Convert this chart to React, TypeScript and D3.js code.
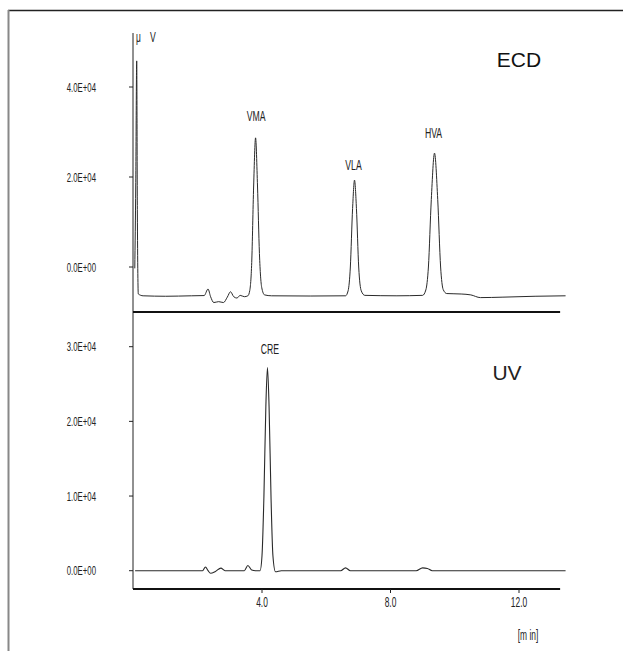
import React from "react";
import * as d3 from "d3";

// ---- data (time in min, signal in µV) ----
const ecdTrace: [number, number][] = [
  [0.04, -300], [0.07, 18000], [0.1, 45800], [0.12, 12000], [0.15, -6000], [0.3, -6400],
  [1.0, -6500], [1.8, -6400], [2.2, -6350], [2.32, -4900], [2.4, -6600], [2.5, -7900],
  [2.65, -7700], [2.8, -7900], [2.92, -6700], [3.02, -5500], [3.12, -6600], [3.22, -6900],
  [3.32, -6300], [3.45, -6600], [3.56, -6400],
  [3.62, -5200], [3.68, 1000], [3.74, 18000], [3.8, 28700], [3.86, 18000], [3.92, 3000],
  [3.99, -4500], [4.08, -6200], [4.3, -6400], [5.5, -6450], [6.6, -6400],
  [6.68, -5300], [6.75, 0], [6.82, 13000], [6.88, 19300], [6.94, 13000], [7.01, 0],
  [7.09, -5300], [7.2, -6300], [8.2, -6400], [9.0, -6300],
  [9.1, -5100], [9.18, 0], [9.27, 15000], [9.37, 25300], [9.47, 15000], [9.56, 0],
  [9.64, -5000], [9.75, -5900], [10.2, -6000], [10.5, -6200], [10.8, -6800],
  [11.5, -6700], [12.5, -6500], [13.45, -6400],
];

const uvTrace: [number, number][] = [
  [0.05, 0], [1.2, 0], [2.15, 0], [2.24, 500], [2.32, 0], [2.4, -350], [2.55, -100],
  [2.72, 350], [2.85, 0], [3.0, 0], [3.45, 0], [3.56, 700], [3.68, 100], [3.8, 0],
  [3.94, 0], [4.0, 2000], [4.06, 10000], [4.12, 22000], [4.17, 27200], [4.22, 22000],
  [4.28, 10000], [4.34, 2000], [4.42, -150], [4.6, 0], [6.45, 0], [6.6, 380], [6.75, 0],
  [8.8, 0], [9.0, 380], [9.15, 300], [9.3, 0], [13.45, 0],
];

const ecdPeaks = [
  { name: "VMA", time: 3.85, labelValue: 33500 },
  { name: "VLA", time: 6.88, labelValue: 22600 },
  { name: "HVA", time: 9.37, labelValue: 29800 },
];
const uvPeaks = [{ name: "CRE", time: 4.28, labelValue: 29700 }];

const topTicks = [0, 20000, 40000];
const topTickLabels = ["0.0E+00", "2.0E+04", "4.0E+04"];
const bottomTicks = [0, 10000, 20000, 30000];
const bottomTickLabels = ["0.0E+00", "1.0E+04", "2.0E+04", "3.0E+04"];
const xTicks = [4, 8, 12];
const xTickLabels = ["4.0", "8.0", "12.0"];

const NARROW = "'Liberation Sans', Arial, sans-serif";

function NText({ x, y, size, sx, anchor, fill = "#222", children }: any) {
  return (
    <text
      transform={`translate(${x},${y}) scale(${sx},1)`}
      textAnchor={anchor}
      fontFamily={NARROW}
      fontSize={size}
      fill={fill}
    >
      {children}
    </text>
  );
}

export default function App() {
  const W = 623, H = 651;
  const x = d3.scaleLinear().domain([0, 4]).range([133.5, 262]);
  const yTop = d3.scaleLinear().domain([0, 40000]).range([267, 87]);
  const yBot = d3.scaleLinear().domain([0, 30000]).range([570.7, 346.7]);
  const axisX = 133;
  const xEnd = x(13.28);

  const lineTop = d3.line<[number, number]>().x(d => x(d[0])).y(d => yTop(d[1])).curve(d3.curveMonotoneX);
  const lineBot = d3.line<[number, number]>().x(d => x(d[0])).y(d => yBot(d[1])).curve(d3.curveMonotoneX);

  return (
    <svg width={W} height={H} style={{ position: "absolute", left: 0, top: 0, background: "#fff" }}>
      {/* frame */}
      <line x1={8} x2={W} y1={10.5} y2={10.5} stroke="#222" strokeWidth={1.5} />
      <line x1={8.5} x2={8.5} y1={10} y2={H} stroke="#888" strokeWidth={2} />

      {/* y axis */}
      <line x1={axisX} x2={axisX} y1={33} y2={589} stroke="#222" strokeWidth={1} />
      <NText x={136} y={42} size={14} sx={0.6} anchor="start">μ</NText>
      <NText x={150} y={42} size={14} sx={0.62} anchor="start">V</NText>

      {topTicks.map((t, i) => (
        <g key={"tt" + i}>
          <line x1={axisX - 4} x2={axisX} y1={yTop(t)} y2={yTop(t)} stroke="#222" />
          <NText x={96} y={yTop(t) + 4.5} size={13} sx={0.6} anchor="end">{topTickLabels[i]}</NText>
        </g>
      ))}
      {bottomTicks.map((t, i) => (
        <g key={"bt" + i}>
          <line x1={axisX - 4} x2={axisX} y1={yBot(t)} y2={yBot(t)} stroke="#222" />
          <NText x={96} y={yBot(t) + 4.5} size={13} sx={0.6} anchor="end">{bottomTickLabels[i]}</NText>
        </g>
      ))}

      {/* top panel x axis */}
      <line x1={axisX} x2={xEnd} y1={312} y2={312} stroke="#111" strokeWidth={2.2} />
      {/* bottom panel x axis */}
      <line x1={axisX} x2={xEnd} y1={589} y2={589} stroke="#111" strokeWidth={2.2} />
      {xTicks.map((t, i) => (
        <g key={"xt" + i}>
          <line x1={x(t)} x2={x(t)} y1={589} y2={593} stroke="#222" />
          <NText x={x(t)} y={607} size={14} sx={0.6} anchor="middle">{xTickLabels[i]}</NText>
        </g>
      ))}
      <NText x={528} y={640} size={14} sx={0.6} anchor="middle">[m in]</NText>

      {/* traces */}
      <path d={lineTop(ecdTrace) || ""} fill="none" stroke="#2a2a2a" strokeWidth={1} />
      <path d={lineBot(uvTrace) || ""} fill="none" stroke="#2a2a2a" strokeWidth={1.1} />

      {ecdPeaks.map(p => (
        <NText key={p.name} x={x(p.time) - 1} y={yTop(p.labelValue) + 5} size={14} sx={0.62} anchor="middle">{p.name}</NText>
      ))}
      {uvPeaks.map(p => (
        <NText key={p.name} x={x(p.time) - 1} y={yBot(p.labelValue) + 5} size={14} sx={0.62} anchor="middle">{p.name}</NText>
      ))}

      <text x={519} y={67} textAnchor="middle" fontFamily="'Liberation Sans', Arial, sans-serif" fontSize={21} fill="#111">ECD</text>
      <text x={507} y={380} textAnchor="middle" fontFamily="'Liberation Sans', Arial, sans-serif" fontSize={21} fill="#222">UV</text>
    </svg>
  );
}
